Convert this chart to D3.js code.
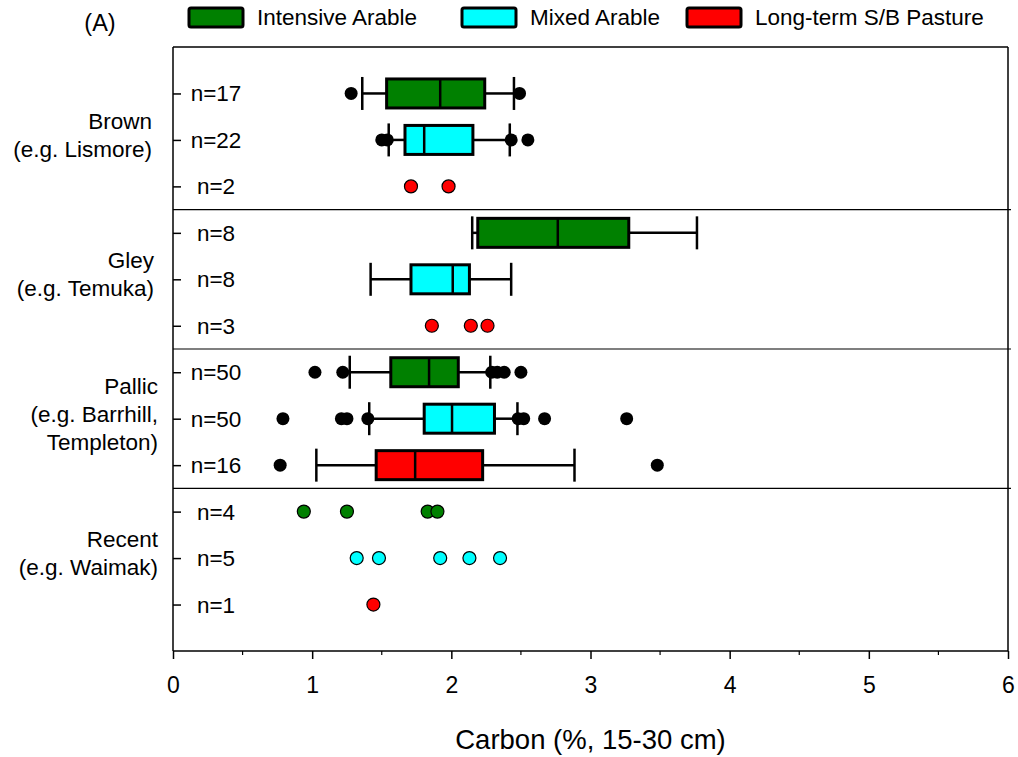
<!DOCTYPE html>
<html><head><meta charset="utf-8">
<script src="https://cdn.jsdelivr.net/npm/d3@7"></script>
<style>body{margin:0;background:#fff}svg{display:block;font-family:Arial,"Liberation Sans",sans-serif}</style>
</head><body><svg id="c" width="1018" height="757"></svg>
<script>
// ---- data ----
const groupLabels = [["Brown","(e.g. Lismore)"],["Gley","(e.g. Temuka)"],["Pallic","(e.g. Barrhill,","Templeton)"],["Recent","(e.g. Waimak)"]];
const landUses = ["Intensive Arable","Mixed Arable","Long-term S/B Pasture"];
const useColors = ["#008000","#00ffff","#ff0000"];
const rowGroup = [0,0,0,1,1,1,2,2,2,3,3,3];
const rowUse   = [0,1,2,0,1,2,0,1,2,0,1,2];
const rowN     = [17,22,2,8,8,3,50,50,16,4,5,1];
const whiskerLow  = [1.36,1.55,null,2.15,1.42,null,1.27,1.41,1.03,null,null,null];
const q1          = [1.535,1.667,null,2.19,1.71,null,1.565,1.805,1.46,null,null,null];
const median      = [1.92,1.805,null,2.765,2.01,null,1.84,2.005,1.74,null,null,null];
const q3          = [2.24,2.155,null,3.275,2.13,null,2.05,2.31,2.225,null,null,null];
const whiskerHigh = [2.45,2.42,null,3.765,2.43,null,2.28,2.475,2.885,null,null,null];
const points = [
  [1.28,2.49],
  [1.50,1.54,2.43,2.55],
  [1.71,1.98],
  [],
  [],
  [1.86,2.14,2.26],
  [1.02,1.22,2.29,2.33,2.38,2.50],
  [0.79,1.21,1.25,1.40,2.48,2.52,2.67,3.26],
  [0.77,3.48],
  [0.94,1.25,1.83,1.90],
  [1.32,1.48,1.92,2.13,2.35],
  [1.44]
];
const xTicks = [0,1,2,3,4,5,6];
const xTitle = "Carbon (%, 15-30 cm)";
const panelLabel = "(A)";

// ---- layout ----
const L=173, R=1008, T=47, B=651;
const svg = d3.select("#c");
const x = d3.scaleLinear().domain([0,6]).range([L,R]);
const y = d3.scaleLinear().domain([0,13]).range([T,B]);
const rows = d3.range(rowN.length);

// frame
svg.append("line").attr("x1",L).attr("x2",R).attr("y1",T).attr("y2",T).attr("stroke","#000").attr("stroke-width",1.5);
svg.append("line").attr("x1",R).attr("x2",R).attr("y1",T).attr("y2",B).attr("stroke","#000").attr("stroke-width",1.5);
// group separators
[3.5,6.5,9.5].forEach(v=>{
  svg.append("line").attr("x1",L).attr("x2",R+3).attr("y1",y(v)).attr("y2",y(v)).attr("stroke","#000").attr("stroke-width",1.2);
});

// x axis
const xAxis = d3.axisBottom(x).tickValues(xTicks).tickFormat(d3.format("d")).tickSize(8).tickPadding(18);
const gx = svg.append("g").attr("transform",`translate(0,${B})`).call(xAxis);
gx.select(".domain").attr("stroke-width",1.5).attr("d",`M${L},0H${R}`);
gx.selectAll(".tick line").attr("stroke-width",1.5);
gx.selectAll(".tick text").attr("font-size",23).attr("font-family","Arial, Liberation Sans, sans-serif").attr("fill","#000");
const minor = d3.range(0.5,6,1);
svg.append("g").selectAll("line").data(minor).join("line")
  .attr("x1",d=>x(d)).attr("x2",d=>x(d)).attr("y1",B).attr("y2",B+4).attr("stroke","#000").attr("stroke-width",1.2);

// y axis (inward ticks)
const yAxis = d3.axisRight(y).tickValues(d3.range(1,13)).tickSize(8).tickFormat("");
const gy = svg.append("g").attr("transform",`translate(${L},0)`).call(yAxis);
gy.select(".domain").attr("stroke-width",1.5).attr("d",`M0,${T}V${B}`);
gy.selectAll(".tick line").attr("stroke-width",1.5);

// n labels
svg.append("g").selectAll("text").data(rows).join("text")
  .attr("x",216).attr("y",i=>y(i+1)+8).attr("text-anchor","middle").attr("font-size",22.5)
  .text(i=>"n="+rowN[i]);

// group labels
const labelRight=[152,154,158,158];
groupLabels.forEach((lines,g)=>{
  const cy = y(g*3+2);
  const n = lines.length;
  const t = svg.append("text").attr("text-anchor","end").attr("font-size",22.5);
  lines.forEach((s,k)=>{
    t.append("tspan").attr("x",labelRight[g]).attr("y",cy+3+(k-(n-1)/2)*28).text(s);
  });
});

// boxes
const boxH=29, capH=33;
const boxRows = rows.filter(i=>q1[i]!=null);
const gb = svg.append("g");
boxRows.forEach(i=>{
  const cy=y(i+1);
  const g=gb.append("g");
  g.append("line").attr("x1",x(whiskerLow[i])).attr("x2",x(q1[i])).attr("y1",cy).attr("y2",cy).attr("stroke","#000").attr("stroke-width",2.5);
  g.append("line").attr("x1",x(q3[i])).attr("x2",x(whiskerHigh[i])).attr("y1",cy).attr("y2",cy).attr("stroke","#000").attr("stroke-width",2.5);
  [whiskerLow[i],whiskerHigh[i]].forEach(v=>{
    g.append("line").attr("x1",x(v)).attr("x2",x(v)).attr("y1",cy-capH/2).attr("y2",cy+capH/2).attr("stroke","#000").attr("stroke-width",2.5);
  });
  g.append("rect").attr("x",x(q1[i])).attr("y",cy-boxH/2).attr("width",x(q3[i])-x(q1[i])).attr("height",boxH)
    .attr("fill",useColors[rowUse[i]]).attr("stroke","#000").attr("stroke-width",3);
  g.append("line").attr("x1",x(median[i])).attr("x2",x(median[i])).attr("y1",cy-boxH/2).attr("y2",cy+boxH/2).attr("stroke","#000").attr("stroke-width",2.5);
});

// points
rows.forEach(i=>{
  const cy=y(i+1);
  const hasBox=q1[i]!=null;
  svg.append("g").selectAll("circle").data(points[i]).join("circle")
    .attr("cx",d=>x(d)).attr("cy",cy).attr("r",6.5)
    .attr("fill",hasBox?"#000":useColors[rowUse[i]]).attr("stroke","#000").attr("stroke-width",hasBox?0:1.2);
});

// legend
const legX=[189,462,687];
landUses.forEach((s,k)=>{
  svg.append("rect").attr("x",legX[k]).attr("y",8).attr("width",54).attr("height",19).attr("rx",2)
    .attr("fill",useColors[k]).attr("stroke","#000").attr("stroke-width",3);
  svg.append("text").attr("x",legX[k]+68).attr("y",25).attr("font-size",22.5).text(s);
});

// titles
svg.append("text").attr("x",x(3)).attr("y",749).attr("text-anchor","middle").attr("font-size",27.5).text(xTitle);
svg.append("text").attr("x",100).attr("y",31).attr("text-anchor","middle").attr("font-size",23.5).text(panelLabel);
</script></body></html>
